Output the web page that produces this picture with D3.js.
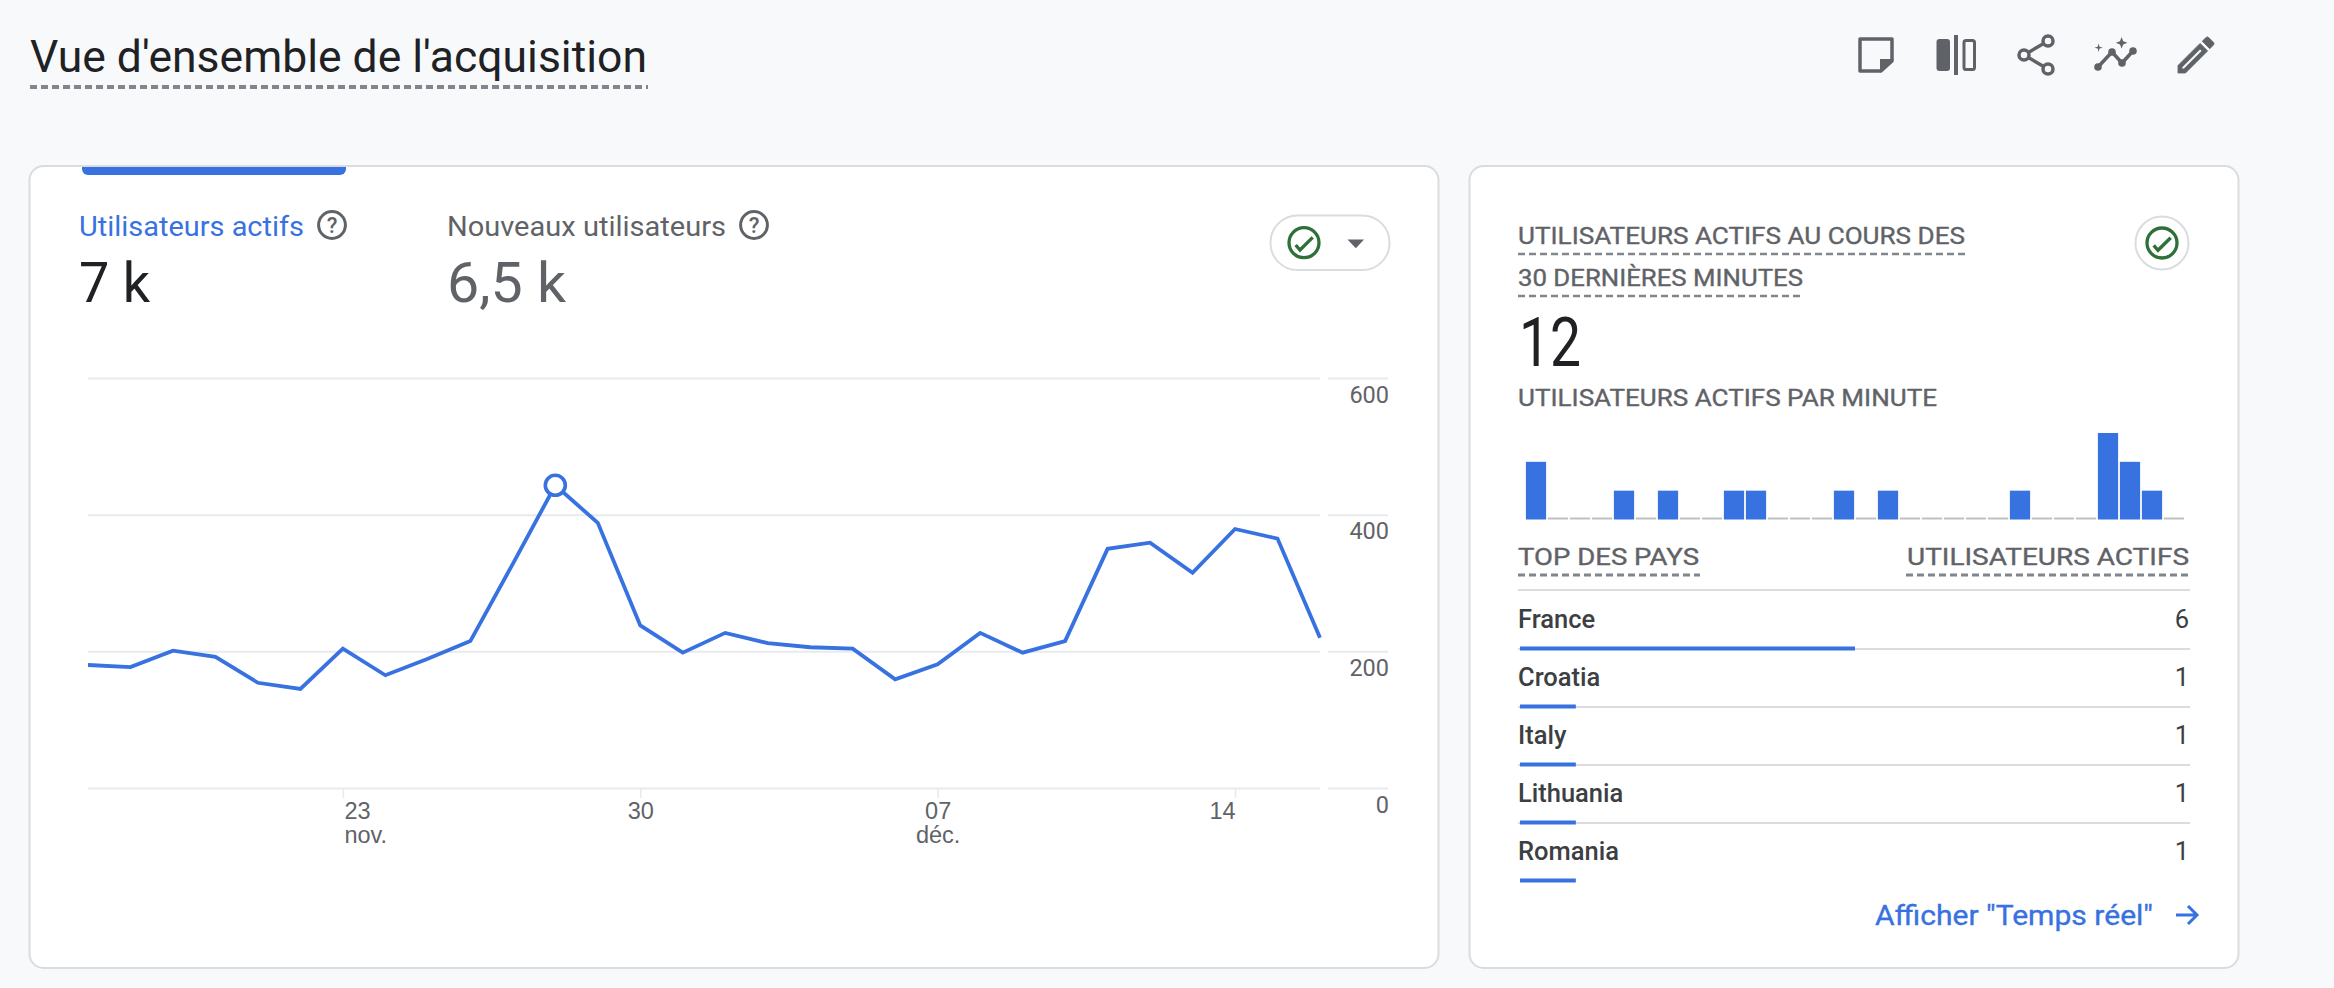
<!doctype html>
<html lang="fr">
<head>
<meta charset="UTF-8" />
<title>Vue d'ensemble de l'acquisition</title>
<script src="https://d3js.org/d3.v7.min.js"></script>
<style>
    body { margin: 0; background: #f8f9fb; }
    svg { display: block; font-family: Roboto, sans-serif; }
    .domain { display: none; }
</style>
</head>
<body>
<svg id="page" width="2334" height="988"></svg>
<script>
const days = ["17 nov","18 nov","19 nov","20 nov","21 nov","22 nov","23 nov","24 nov","25 nov","26 nov",
    "27 nov","28 nov","29 nov","30 nov","01 déc","02 déc","03 déc","04 déc","05 déc","06 déc",
    "07 déc","08 déc","09 déc","10 déc","11 déc","12 déc","13 déc","14 déc","15 déc","16 déc"];
const activeUsers = [180,177,201,192,154,145,204,165,189,215,328,443,388,238,198,227,212,206,204,159,
    181,227,198,215,350,359,315,379,365,220];
const yTicks = [0,200,400,600];
const xTicks = ["23 nov","30 nov","07 déc","14 déc"];
const xTickDay = ["23","30","07","14"];
const xTickMonth = ["nov.","","déc.",""];
const xTickAnchor = ["start","middle","middle","end"];
const highlightDay = "28 nov";

const perMinute = [2,0,0,0,1,0,1,0,0,1,1,0,0,0,1,0,1,0,0,0,0,0,1,0,0,0,3,2,1,0];
const countries = ["France","Croatia","Italy","Lithuania","Romania"];
const countryUsers = [6,1,1,1,1];

const BLUE = "#3871e0", GREY = "#5f6368", DARK = "#202124", RULE = "#dadce0", GRID = "#e8eaed", GREEN = "#2e7038";

const svg = d3.select("#page");

function label(parent, x, y, str, size, fill, opts = {}) {
    const t = parent.append("text").attr("x", x).attr("y", y).text(str)
        .attr("font-size", size).attr("fill", fill)
        .attr("text-anchor", opts.anchor || "start")
        .attr("font-weight", opts.weight || 400);
    if (opts.width) t.attr("textLength", opts.width).attr("lengthAdjust", "spacingAndGlyphs");
    if (opts.semi) t.attr("stroke", fill).attr("stroke-width", 0.35);
    return t;
}
function dashed(parent, x1, x2, y, w = 2.5) {
    parent.append("line").attr("x1", x1).attr("x2", x2).attr("y1", y).attr("y2", y)
        .attr("stroke", "#80868b").attr("stroke-width", w).attr("stroke-dasharray", "7 4");
}
function helpIcon(parent, cx, cy) {
    parent.append("circle").attr("cx", cx).attr("cy", cy).attr("r", 13.4)
        .attr("fill", "none").attr("stroke", GREY).attr("stroke-width", 3);
    label(parent, cx, cy + 8, "?", 22, GREY, { anchor: "middle", weight: 500 });
}
function checkIcon(parent, cx, cy) {
    parent.append("circle").attr("cx", cx).attr("cy", cy).attr("r", 15)
        .attr("fill", "none").attr("stroke", GREEN).attr("stroke-width", 3.3);
    parent.append("path").attr("d", `M${cx - 8.3},${cy + 2.3} L${cx - 4},${cy + 7.3} L${cx + 8.7},${cy - 5.3}`)
        .attr("fill", "none").attr("stroke", GREEN).attr("stroke-width", 3.4);
}

// header
label(svg, 30, 72, "Vue d'ensemble de l'acquisition", 44, DARK, { width: 617 });
dashed(svg, 30, 648, 87, 4);

// toolbar icons
const icons = svg.append("g").attr("fill", "none").attr("stroke", GREY).attr("stroke-width", 3.5);
icons.append("path").attr("stroke-linejoin", "round").attr("d", "M1860,39 H1892 V61 L1881,71 H1860 Z");
icons.append("path").attr("fill", GREY).attr("stroke", "none").attr("d", "M1880,59 H1894 L1880,73 Z");
icons.append("rect").attr("x", 1936.5).attr("y", 39).attr("width", 13.5).attr("height", 32).attr("rx", 3).attr("fill", GREY).attr("stroke", "none");
icons.append("rect").attr("x", 1954).attr("y", 35).attr("width", 4).attr("height", 40).attr("fill", GREY).attr("stroke", "none");
icons.append("rect").attr("x", 1964).attr("y", 40.5).attr("width", 10.5).attr("height", 29).attr("rx", 2).attr("stroke-width", 3);
icons.append("path").attr("d", "M2048,41 L2024,55 L2048,69");
icons.selectAll("circle.node").data([[2048,41],[2024,55],[2048,69]]).join("circle")
    .attr("cx", d => d[0]).attr("cy", d => d[1]).attr("r", 5).attr("fill", "#f8f9fb");
icons.append("path").attr("stroke-linejoin", "round").attr("d", "M2098,67 L2112,52 L2122,63 L2133,51");
icons.selectAll("circle.dot").data([[2098,67],[2112,52],[2122,63],[2133,51]]).join("circle")
    .attr("cx", d => d[0]).attr("cy", d => d[1]).attr("r", 3.8).attr("fill", GREY).attr("stroke", "none");
icons.append("path").attr("fill", GREY).attr("stroke", "none").attr("d", "M2121.6,37 l1.6,4.2 l4.2,1.6 l-4.2,1.6 l-1.6,4.2 l-1.6,-4.2 l-4.2,-1.6 l4.2,-1.6 Z");
icons.append("path").attr("fill", GREY).attr("stroke", "none").attr("d", "M2098.6,43.5 l.9,3.3 l3.3,.9 l-3.3,.9 l-.9,3.3 l-.9,-3.3 l-3.3,-.9 l3.3,-.9 Z");
icons.append("path").attr("transform", "translate(2172,31) scale(2)").attr("fill", GREY).attr("stroke", GREY).attr("stroke-width", 0.4)
    .attr("d", "M3 17.25V21h3.75L17.81 9.94l-3.75-3.75L3 17.25zM5.92 19H5v-.92l9.06-9.06.92.92L5.92 19zM20.71 7.04a1 1 0 0 0 0-1.41l-2.34-2.34a1 1 0 0 0-1.41 0l-1.83 1.83 3.75 3.75 1.83-1.83z");

// cards
svg.selectAll("rect.card").data([[29.5,166,1409,802],[1469.5,166,769,802]]).join("rect").attr("class", "card")
    .attr("x", d => d[0]).attr("y", d => d[1]).attr("width", d => d[2]).attr("height", d => d[3])
    .attr("rx", 14).attr("fill", "#fff").attr("stroke", RULE).attr("stroke-width", 2);

// left card, selected tab and metrics
svg.append("path").attr("fill", BLUE).attr("d", "M82,167 H346 V169 a6,6 0 0 1 -6,6 H88 a6,6 0 0 1 -6,-6 Z");
label(svg, 79, 236, "Utilisateurs actifs", 28, BLUE, { width: 225 });
helpIcon(svg, 332, 225);
label(svg, 447, 236, "Nouveaux utilisateurs", 28, GREY, { width: 279 });
helpIcon(svg, 754, 225);
label(svg, 79, 302, "7 k", 56, DARK, { width: 71 });
label(svg, 447, 302, "6,5 k", 56, GREY, { width: 119 });

svg.append("rect").attr("x", 1270.5).attr("y", 215.5).attr("width", 119).attr("height", 54.5).attr("rx", 27)
    .attr("fill", "#fff").attr("stroke", RULE).attr("stroke-width", 2);
checkIcon(svg, 1304, 242.7);
svg.append("path").attr("fill", GREY).attr("d", "M1347.5,239.5 h16.5 l-8.2,8.8 Z");

// line chart
const x = d3.scalePoint().domain(days).range([88, 1320]);
const y = d3.scaleLinear().domain([0, 600]).range([788, 378]);

const grid = svg.append("g").attr("transform", "translate(1320,0)").call(d3.axisLeft(y).tickValues(yTicks).tickSize(1232).tickFormat(""));
grid.selectAll("line").attr("stroke", GRID).attr("stroke-width", 2);

const yAxis = svg.append("g").attr("transform", "translate(1328,0)")
    .call(d3.axisRight(y).tickValues(yTicks).tickSize(60).tickPadding(0));
yAxis.selectAll("line").attr("stroke", GRID).attr("stroke-width", 2);
yAxis.selectAll("text").attr("x", 61).attr("y", 24).attr("dy", 0).attr("text-anchor", "end")
    .attr("font-size", 23.5).attr("font-family", "Roboto, sans-serif").attr("fill", GREY);

const xAxis = svg.append("g").attr("transform", "translate(0,788)")
    .call(d3.axisBottom(x).tickValues(xTicks).tickSize(10).tickFormat(""));
xAxis.selectAll("line").attr("stroke", GRID).attr("stroke-width", 1.5);
xAxis.selectAll("text").remove();
xAxis.selectAll("g.tick").each(function (d, i) {
    const tick = d3.select(this);
    const dx = xTickAnchor[i] === "start" ? 1 : 0;
    label(tick, dx, 31, xTickDay[i], 23.5, GREY, { anchor: xTickAnchor[i] });
    if (xTickMonth[i]) label(tick, dx, 55, xTickMonth[i], 23.5, GREY, { anchor: xTickAnchor[i] });
});

const line = d3.line().x((d, i) => x(days[i])).y(d => y(d));
svg.append("path").datum(activeUsers).attr("d", line)
    .attr("fill", "none").attr("stroke", BLUE).attr("stroke-width", 3.8).attr("stroke-linejoin", "miter");
svg.append("circle").attr("cx", x(highlightDay)).attr("cy", y(activeUsers[days.indexOf(highlightDay)])).attr("r", 10)
    .attr("fill", "#fff").attr("stroke", BLUE).attr("stroke-width", 3.6);

// right card, realtime
label(svg, 1518, 243.5, "UTILISATEURS ACTIFS AU COURS DES", 23, GREY, { width: 447, semi: true });
dashed(svg, 1518, 1965, 254);
label(svg, 1518, 286, "30 DERNIÈRES MINUTES", 23, GREY, { width: 285, semi: true });
dashed(svg, 1518, 1804, 296);
label(svg, 1519, 366, "12", 69, DARK, { width: 62 });
label(svg, 1518, 405.5, "UTILISATEURS ACTIFS PAR MINUTE", 23, GREY, { width: 419, semi: true });

svg.append("circle").attr("cx", 2162).attr("cy", 243).attr("r", 26.5).attr("fill", "#fff").attr("stroke", RULE).attr("stroke-width", 2);
checkIcon(svg, 2162, 243);

const bx = d3.scaleBand().domain(d3.range(perMinute.length)).range([1525, 2185]).paddingInner(0.08).paddingOuter(0.04);
const by = d3.scaleLinear().domain([0, 3]).range([519.5, 433]);
svg.append("g").selectAll("rect").data(perMinute).join("rect")
    .attr("x", (d, i) => bx(i)).attr("width", bx.bandwidth())
    .attr("y", d => d > 0 ? by(d) : 517.5).attr("height", d => d > 0 ? by(0) - by(d) : 2)
    .attr("fill", d => d > 0 ? BLUE : "#bdc1c6");

// top countries
label(svg, 1518, 565, "TOP DES PAYS", 23, GREY, { width: 181, semi: true });
dashed(svg, 1518, 1700, 575, 3);
label(svg, 2189, 565, "UTILISATEURS ACTIFS", 23, GREY, { anchor: "end", width: 282, semi: true });
dashed(svg, 1906, 2190, 575, 3);
svg.append("line").attr("x1", 1518).attr("x2", 2190).attr("y1", 590).attr("y2", 590).attr("stroke", RULE).attr("stroke-width", 2);

const rowY = d3.scalePoint().domain(countries).range([628, 860]);
const rowX = d3.scaleLinear().domain([0, 12]).range([1520, 2190]);
const rows = svg.append("g").selectAll("g").data(countries).join("g");
rows.each(function (c, i) {
    const row = d3.select(this);
    const base = rowY(c);
    label(row, 1518, base, c, 25.5, "#3c4043", { weight: 500 });
    label(row, 2189, base, countryUsers[i], 25.5, "#3c4043", { anchor: "end" });
    if (i < countries.length - 1) {
        row.append("rect").attr("x", 1518).attr("y", base + 20).attr("width", 672).attr("height", 2).attr("fill", RULE);
    }
    row.append("rect").attr("x", rowX(0)).attr("y", base + 18.5).attr("width", rowX(countryUsers[i]) - rowX(0)).attr("height", 4).attr("fill", BLUE);
});

label(svg, 1875, 925, 'Afficher "Temps réel"', 28, BLUE, { width: 278 , semi: true });
svg.append("path").attr("fill", "none").attr("stroke", BLUE).attr("stroke-width", 3)
    .attr("d", "M2176,915 H2197 M2188,906 L2197,915 L2188,924");
</script>
</body>
</html>
